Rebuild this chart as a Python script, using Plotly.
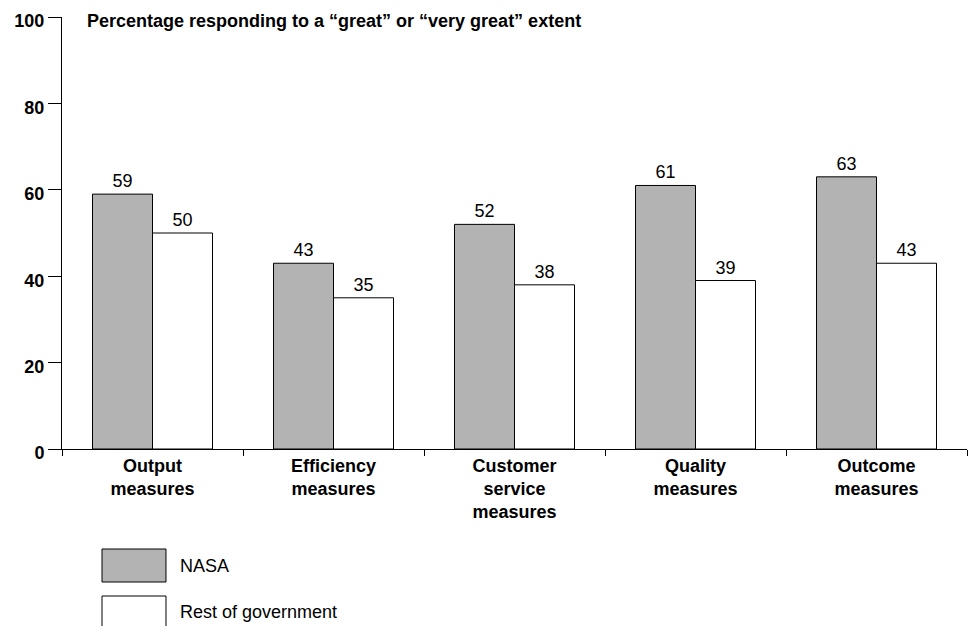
import plotly.graph_objects as go

categories = ["Output<br>measures", "Efficiency<br>measures", "Customer<br>service<br>measures",
              "Quality<br>measures", "Outcome<br>measures"]
nasa = [59, 43, 52, 61, 63]
rest = [50, 35, 38, 39, 43]
y_ticks = [0, 20, 40, 60, 80, 100]

FONT = "Liberation Sans, Arial, Helvetica, sans-serif"
GRAY = "#b3b3b3"
FS = 18

fig = go.Figure()
fig.add_trace(go.Bar(x=categories, y=nasa, name="NASA", marker=dict(color=GRAY, line=dict(color="black", width=1)),
                     text=nasa, textposition="outside", cliponaxis=False,
                     textfont=dict(family=FONT, size=FS, color="black")))
fig.add_trace(go.Bar(x=categories, y=rest, name="Rest of government", marker=dict(color="white", line=dict(color="black", width=1)),
                     text=rest, textposition="outside", cliponaxis=False,
                     textfont=dict(family=FONT, size=FS, color="black")))

fig.update_layout(
    width=977, height=626,
    margin=dict(l=62, r=10, t=17, b=177),
    paper_bgcolor="white", plot_bgcolor="white",
    barmode="group", bargap=0.337, bargroupgap=0,
    showlegend=False,
    font=dict(family=FONT, color="black"),
)
fig.update_yaxes(range=[0, 100], tickvals=y_ticks, ticktext=[f"<b>{v}</b>" for v in y_ticks],
                 showline=True, linecolor="black", linewidth=1, ticks="outside", ticklen=13,
                 tickcolor="black", showgrid=False, zeroline=False, automargin=False,
                 ticklabelshift=4,
                 tickfont=dict(family=FONT, size=FS, color="black"))
fig.update_xaxes(showline=True, linecolor="black", linewidth=1, ticks="outside", ticklen=6,
                 tickson="boundaries", tickcolor="black", showgrid=False, automargin=False,
                 tickvals=categories, ticktext=[f"<b>{c}</b>" for c in categories],
                 tickfont=dict(family=FONT, size=FS, color="black"))

fig.add_annotation(text="<b>Percentage responding to a \u201cgreat\u201d or \u201cvery great\u201d extent</b>",
                   xref="paper", yref="paper", x=0.0254, y=0.991, xanchor="left", yanchor="middle",
                   showarrow=False, font=dict(family=FONT, size=FS, color="black"))

# legend
legend_items = [("NASA", GRAY, -0.2315, -0.3079, -0.2697), ("Rest of government", "white", -0.3403, -0.42, -0.3762)]
for label, color, y0, y1, ty in legend_items:
    fig.add_shape(type="rect", xref="paper", yref="paper", x0=0.0442, x1=0.1149, y0=y0, y1=y1,
                  fillcolor=color, line=dict(color="black", width=1))
    fig.add_annotation(text=label, xref="paper", yref="paper", x=0.128, y=ty,
                       xanchor="left", yanchor="middle", showarrow=False,
                       font=dict(family=FONT, size=FS, color="black"))

fig.write_html("out.html", config={"displayModeBar": False},
               post_script="document.body.style.margin='0';document.body.style.overflow='hidden';")
